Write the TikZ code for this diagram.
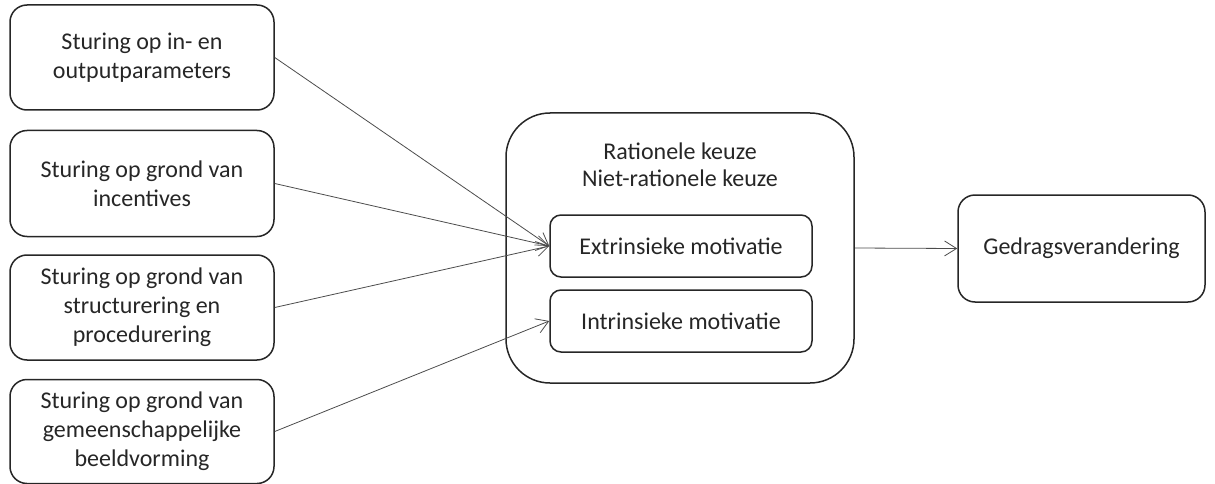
\documentclass[tikz,border=0pt]{standalone}
\usepackage{fontspec}
\setmainfont{Carlito}
\usetikzlibrary{arrows.meta}
\begin{document}
\begin{tikzpicture}[x=1pt,y=-1pt,
  box/.style={draw=black!85, line width=1.5pt, rounded corners=17pt, align=center,
    inner sep=0pt, font=\fontsize{24}{29}\selectfont, text=black!85},
  inbox/.style={box, rounded corners=11pt},
  conn/.style={draw=black!70, line width=0.8pt, -{Straight Barb[length=12pt,width=15pt,line width=0.8pt]}}]
\useasboundingbox (0,0) rectangle (1215,484);
\node[box, minimum width=264pt, minimum height=105pt] (b1) at (142,57.5) {Sturing op in- en\\outputparameters};
\node[box, minimum width=264pt, minimum height=106pt] (b2) at (142,183.5) {Sturing op grond van\\incentives};
\node[box, minimum width=264pt, minimum height=105pt] (b3) at (142,307.5) {Sturing op grond van\\structurering en\\procedurering};
\node[box, minimum width=264pt, minimum height=104pt] (b4) at (142,431.5) {Sturing op grond van\\gemeenschappelijke\\beeldvorming};
\node[box, rounded corners=44pt, minimum width=348pt, minimum height=270pt] (big) at (680,248) {};
\node[align=center, inner sep=0pt, font=\fontsize{24}{27}\selectfont, text=black!85] (lbl) at (680,165) {Rationele keuze\\Niet-rationele keuze};
\node[inbox, minimum width=262pt, minimum height=62pt] (ext) at (681,246) {Extrinsieke motivatie};
\node[inbox, minimum width=262pt, minimum height=62pt] (int) at (681,321) {Intrinsieke motivatie};
\node[box, minimum width=247pt, minimum height=107pt] (ged) at (1081.5,248.5) {Gedragsverandering};
\draw[conn] (b1.east) -- (ext.west);
\draw[conn] (b2.east) -- (ext.west);
\draw[conn] (b3.east) -- (ext.west);
\draw[conn] (b4.east) -- (int.west);
\draw[conn] (big.east) -- (ged.west);
\end{tikzpicture}
\end{document}
